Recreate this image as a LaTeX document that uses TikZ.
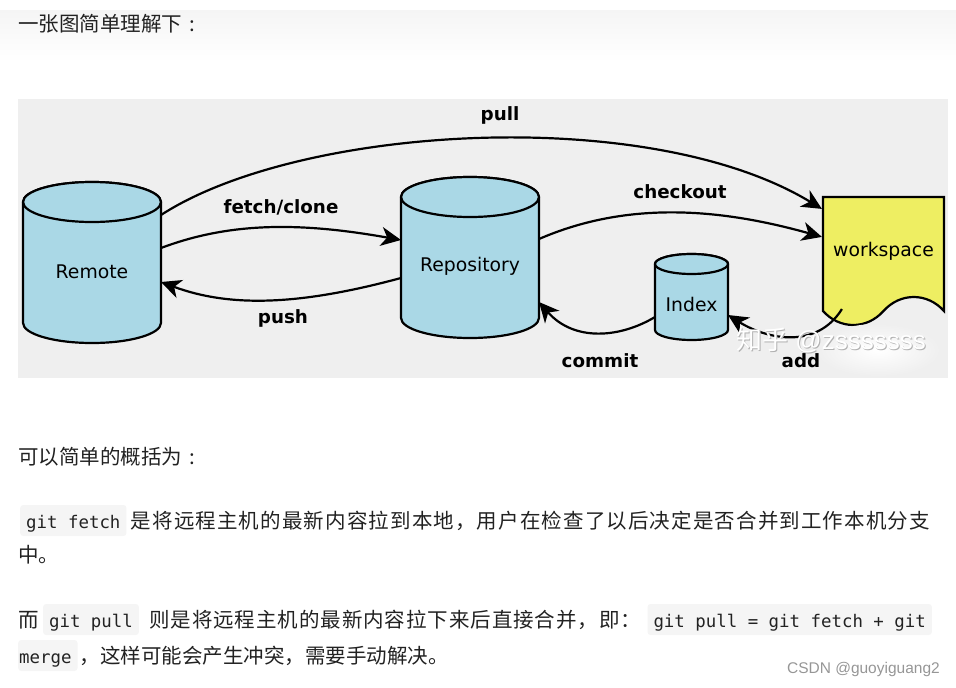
\documentclass[tikz,border=0pt]{standalone}
\usepackage{fontspec}
\setmainfont{DejaVu Sans}
\newfontfamily\cjkfont{Noto Sans CJK SC}
\newfontfamily\codefont{DejaVu Sans Mono}
\newfontfamily\markfont{Liberation Sans}
\usetikzlibrary{positioning,shapes.symbols,arrows.meta}
\definecolor{cylblue}{RGB}{170,216,230}
\definecolor{wsyellow}{RGB}{238,238,98}
\definecolor{panelgray}{RGB}{239,239,239}
\definecolor{codebg}{RGB}{245,245,245}
\definecolor{bodytext}{RGB}{34,34,34}
\definecolor{markgray}{RGB}{150,150,150}
\begin{document}
\begin{tikzpicture}[x=1pt,y=-1pt]
    \useasboundingbox (0,0) rectangle (956,688);
    \tikzset{storebox/.style={draw=none, inner sep=0pt, outer sep=0pt},
             storeline/.style={draw=black, fill=cylblue, line width=2.2pt},
             flow/.style={-{Stealth[length=20pt,width=19pt,inset=6pt]}, line width=2.2pt},
             flowlabel/.style={font=\fontsize{18.3}{22}\selectfont\bfseries, inner sep=0pt},
             storelabel/.style={font=\fontsize{18.8}{22}\selectfont, inner sep=0pt},
             para/.style={font=\cjkfont\fontsize{20.5}{26}\selectfont, text=bodytext, inner sep=0pt},
             inlinecode/.style={font=\codefont\fontsize{17.4}{20}\selectfont, text=bodytext, fill=codebg, rounded corners=3pt, inner xsep=6pt, inner ysep=4pt, text height=19pt, text depth=4pt}}
    % page header
    \shade[top color=codebg, bottom color=white] (0,10) rectangle (956,62);
    \node[para, anchor=base west] (title) at (18,31) {一张图简单理解下\hspace{7pt}:};
    % diagram
    \fill[panelgray] (18,99) rectangle (948,378);
    \node[storebox, minimum width=138pt, minimum height=161pt] (remote) at (92,262.5) {};
    \node[storebox, minimum width=138pt, minimum height=161pt] (repository) at (470,257.5) {};
    \node[storebox, minimum width=73pt, minimum height=86pt] (index) at (691.5,297) {};
    \foreach \n/\w/\r in {remote/69/20, repository/69/20, index/36.5/10}
    {
        \path[storeline] ([yshift=-\r pt]\n.north west) -- ([yshift=\r pt]\n.south west)
            arc[start angle=180, end angle=360, x radius=\w pt, y radius=\r pt]
            -- ([yshift=-\r pt]\n.north east)
            arc[start angle=0, end angle=180, x radius=\w pt, y radius=\r pt] -- cycle;
        \path[storeline] ([yshift=-\r pt]\n.north) ellipse [x radius=\w pt, y radius=\r pt];
    }
    \node[storelabel] (remotetext) at ([yshift=-9.5pt]remote.center) {Remote};
    \node[storelabel] (repositorytext) at ([yshift=-8.5pt]repository.center) {Repository};
    \node[storelabel] (indextext) at ([yshift=-7pt]index.center) {Index};
    \node[tape, tape bend top=none, tape bend bottom=in and out, tape bend height=28pt, draw, line width=2.2pt, fill=wsyellow, minimum width=121pt, minimum height=128pt, inner sep=0pt] (workspace) at (883.5,247) {};
    \node[storelabel] (workspacetext) at (883.5,251) {workspace};
    \coordinate (addstart) at ([xshift=20pt,yshift=-11pt]workspace.south west);
    % connectors
    \draw[flow] ([yshift=47.5pt]remote.east) .. controls +(139,-90) and +(-173,-105) .. ([yshift=-13pt]workspace.north west);
    \draw[flow] ([yshift=14.5pt]remote.east) .. controls +(69,-26) and +(-101,-18) .. ([yshift=17.5pt]repository.west);
    \draw[flow] ([yshift=-20.5pt]repository.west) .. controls +(-100,27) and +(70,26) .. ([yshift=-19.5pt]remote.east);
    \draw[flow] ([yshift=18.5pt]repository.east) .. controls +(90,-39) and +(-100,-28) .. ([yshift=-41pt]workspace.north west);
    \draw[flow] ([yshift=-20pt]index.west) .. controls +(-35,21) and +(35,40) .. ([yshift=-44.5pt]repository.east);
    \draw[flow] (addstart) .. controls +(-25,40) and +(40,25) .. ([yshift=-18pt]index.east);
    % watermark
    \shade[inner color=white, outer color=panelgray] (878,350) ellipse [x radius=62, y radius=26];
    \node[font=\markfont\fontsize{26}{28}\selectfont, text=gray!60, inner sep=0pt] (markshadow) at (832,341) {{\cjkfont 知乎} @zsssssss};
    \node[font=\markfont\fontsize{26}{28}\selectfont, text=white, inner sep=0pt] (mark) at (831,340) {{\cjkfont 知乎} @zsssssss};
    % labels
    \node[flowlabel] (pulllabel) at (500,115) {pull};
    \node[flowlabel] (fetchlabel) at (281,207) {fetch/clone};
    \node[flowlabel] (pushlabel) at (283,318) {push};
    \node[flowlabel] (checkoutlabel) at (680,192) {checkout};
    \node[flowlabel] (commitlabel) at (600,361) {commit};
    \node[flowlabel] (addlabel) at (801,361) {add};
    % text below
    \node[para, anchor=base west] (summary) at (18,464) {可以简单的概括为\hspace{7pt}:};
    \node[inlinecode, anchor=base west] (fetchcode) at (20,528) {git fetch};
    \node[para, font=\cjkfont\fontsize{20.5}{26}\selectfont\addfontfeature{LetterSpace=5.5}, base right=4pt of fetchcode] (fetchtext) {是将远程主机的最新内容拉到本地，用户在检查了以后决定是否合并到工作本机分支};
    \node[para, anchor=base west] (fetchtail) at (18,562) {中。};
    \node[para, anchor=base west] (pullhead) at (18,627) {而};
    \node[inlinecode, base right=4pt of pullhead] (pullcode) {git pull};
    \node[para, font=\cjkfont\fontsize{20.5}{26}\selectfont\addfontfeature{LetterSpace=4.5}, base right=10pt of pullcode] (pulltext) {则是将远程主机的最新内容拉下来后直接合并，即：};
    \node[inlinecode, base right=6pt of pulltext] (eqcode) {git pull = git fetch + git};
    \node[inlinecode, anchor=base west] (mergecode) at (18,663) {\kern-5pt merge};
    \node[para, base right=2pt of mergecode] (mergetext) {，这样可能会产生冲突，需要手动解决。};
    \node[font=\markfont\fontsize{15.5}{18}\selectfont, text=markgray, anchor=base east, inner sep=0pt] (csdnmark) at (940,673.5) {CSDN @guoyiguang2};
\end{tikzpicture}
\end{document}
